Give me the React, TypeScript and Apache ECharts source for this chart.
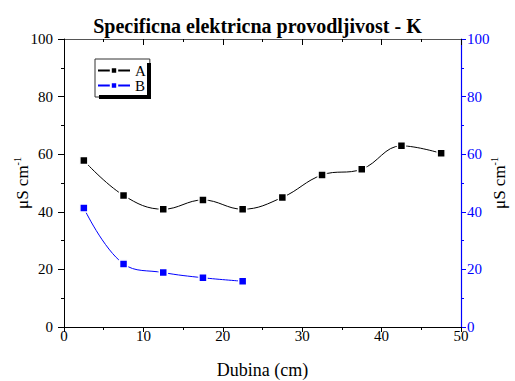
import React, { useEffect, useRef } from "react";
import * as echarts from "echarts";

const depth = [2.5, 7.5, 12.5, 17.5, 22.5, 27.5, 32.5, 37.5, 42.5, 47.5];
const seriesA = [57.8, 45.7, 40.9, 44.1, 40.9, 45.0, 52.8, 54.8, 62.9, 60.3];
const depthB = [2.5, 7.5, 12.5, 17.5, 22.5];
const seriesB = [41.3, 21.9, 18.9, 17.1, 15.9];
const legendNames = ["A", "B"];

const FONT = "Liberation Serif";

export default function App() {
  const ref = useRef<HTMLDivElement>(null);
  useEffect(() => {
    if (!ref.current) return;
    const chart = echarts.init(ref.current, undefined, { renderer: "svg" });
    const axisName = {
      a: { fontFamily: FONT, fontSize: 17, color: "#000" },
      b: { fontFamily: FONT, fontSize: 10, color: "#000", padding: [0, 0, 10, 0] },
    };
    const tickFont = { fontFamily: FONT, fontSize: 15 };
    chart.setOption({
      animation: false,
      backgroundColor: "#fff",
      textStyle: { fontFamily: FONT },
      title: {
        text: "Specificna elektricna provodljivost - K",
        left: "center",
        top: 11,
        textStyle: { fontFamily: FONT, fontSize: 20, fontWeight: "bold", color: "#000" },
      },
      grid: { left: 64, right: 54, top: 39, bottom: 54, containLabel: false, outerBoundsMode: "none" },
      graphic: {
        elements: [
          {
            type: "rect",
            z: 100,
            zlevel: 0,
            silent: true,
            x: 147,
            y: 63,
            shape: { x: 0, y: 0, width: 4, height: 36 },
            style: { fill: "#000" },
          },
          {
            type: "rect",
            z: 100,
            zlevel: 0,
            silent: true,
            x: 99,
            y: 95,
            shape: { x: 0, y: 0, width: 52, height: 4 },
            style: { fill: "#000" },
          },
        ],
      },
      legend: {
        left: 95,
        top: 59,
        z: 5,
        orient: "vertical",
        itemWidth: 32,
        itemHeight: 8,
        itemGap: 0,
        padding: [4, 4, 4, 2],
        borderWidth: 1,
        selectedMode: false,
        backgroundColor: "#fff",
        borderColor: "#333",
        textStyle: { fontFamily: FONT, fontSize: 15, color: "#000", lineHeight: 14 },
        data: legendNames,
      },
      xAxis: [
        {
          type: "value",
          min: 0,
          max: 50,
          interval: 10,
          position: "bottom",
          name: "Dubina (cm)",
          nameLocation: "middle",
          nameGap: 34,
          nameMoveOverlap: false,
          nameTextStyle: { fontFamily: FONT, fontSize: 18, color: "#000" },
          axisLine: { show: true, onZero: false, lineStyle: { color: "#000", width: 1 } },
          axisTick: { show: true, inside: false, length: 5, lineStyle: { color: "#000" } },
          minorTick: { show: true, splitNumber: 2, length: 3, lineStyle: { color: "#000" } },
          axisLabel: { ...tickFont, color: "#000", margin: 1 },
          splitLine: { show: false },
        },
        {
          type: "value",
          min: 0,
          max: 50,
          interval: 10,
          position: "top",
          axisLine: { show: true, onZero: false, lineStyle: { color: "#555", width: 1 } },
          axisTick: { show: true, inside: true, length: 6, lineStyle: { color: "#000" } },
          minorTick: { show: true, splitNumber: 2, length: 3, lineStyle: { color: "#000" } },
          axisLabel: { show: false },
          splitLine: { show: false },
        },
      ],
      yAxis: [
        {
          type: "value",
          min: 0,
          max: 100,
          interval: 20,
          position: "left",
          name: "{a|μS cm}{b|-1}",
          nameLocation: "middle",
          nameGap: 32,
          nameMoveOverlap: false,
          nameTextStyle: { rich: axisName },
          axisLine: { show: true, onZero: false, lineStyle: { color: "#000", width: 1 } },
          axisTick: { show: true, inside: false, length: 6, lineStyle: { color: "#000" } },
          minorTick: { show: true, splitNumber: 2, length: 3, lineStyle: { color: "#000" } },
          axisLabel: { ...tickFont, color: "#000", margin: 11 },
          splitLine: { show: false },
        },
        {
          type: "value",
          min: 0,
          max: 100,
          interval: 20,
          position: "right",
          name: "{a|μS cm}{b|-1}",
          nameLocation: "middle",
          nameGap: 28,
          nameRotate: 90,
          nameMoveOverlap: false,
          nameTextStyle: { rich: axisName },
          axisLine: { show: true, onZero: false, lineStyle: { color: "#0000ff", width: 1.2 } },
          axisTick: { show: true, inside: false, length: 5, lineStyle: { color: "#0000ff" } },
          minorTick: { show: true, splitNumber: 2, length: 3, lineStyle: { color: "#0000ff" } },
          axisLabel: { ...tickFont, color: "#0000ff", margin: 6 },
          splitLine: { show: false },
        },
      ],
      series: [
        {
          name: "A",
          type: "line",
          xAxisIndex: 0,
          yAxisIndex: 0,
          data: depth.map((d, i) => [d, seriesA[i]]),
          smooth: 0.4,
          symbol: "rect",
          symbolSize: 8,
          color: "#000",
          lineStyle: { color: "#000", width: 1 },
          itemStyle: { color: "#000", borderColor: "#fff", borderWidth: 1.5 },
        },
        {
          name: "B",
          type: "line",
          xAxisIndex: 0,
          yAxisIndex: 1,
          data: depthB.map((d, i) => [d, seriesB[i]]),
          smooth: 0.4,
          symbol: "rect",
          symbolSize: 8,
          color: "#0000ff",
          lineStyle: { color: "#0000ff", width: 1 },
          itemStyle: { color: "#0000ff", borderColor: "#fff", borderWidth: 1.5 },
        },
      ],
    });
    return () => chart.dispose();
  }, []);
  return <div ref={ref} style={{ width: 515, height: 381, position: "absolute", left: 0, top: 0 }} />;
}
